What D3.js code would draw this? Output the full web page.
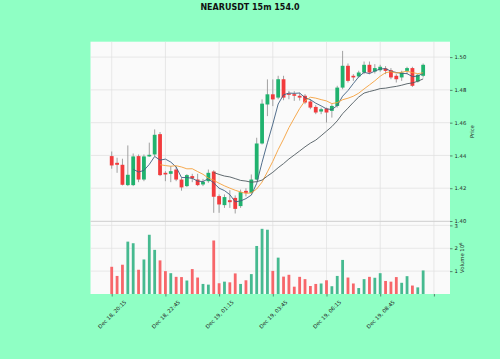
<!DOCTYPE html>
<html>
<head>
<meta charset="utf-8">
<script src="https://cdn.jsdelivr.net/npm/d3@7"></script>
<style>
body { margin: 0; background: #8fffc4; }
svg { display: block; font-family: "DejaVu Sans", sans-serif; }
</style>
</head>
<body>
<svg id="chart" width="500" height="359"></svg>
<script>
// NEARUSDT 15m candles
var opens  = [1.4396,1.4355,1.4343,1.4219,1.4219,1.4396,1.4253,1.4394,1.4406,1.4530,
              1.4294,1.4288,1.4314,1.4253,1.4213,1.4274,1.4253,1.4223,1.4243,1.4302,
              1.4152,1.4097,1.4127,1.4141,1.4091,1.4184,1.4172,1.4253,1.4473,1.4711,
              1.4773,1.4753,1.4865,1.4778,1.4774,1.4764,1.4764,1.4729,1.4696,1.4668,
              1.4686,1.4672,1.4702,1.4814,1.4947,1.4886,1.4882,1.4906,1.4953,1.4912,
              1.4920,1.4931,1.4920,1.4886,1.4876,1.4916,1.4933,1.4851,1.4886];
var highs  = [1.4424,1.4386,1.4380,1.4461,1.4412,1.4406,1.4406,1.4478,1.4559,1.4543,
              1.4304,1.4335,1.4335,1.4264,1.4286,1.4288,1.4288,1.4257,1.4314,1.4310,
              1.4162,1.4162,1.4188,1.4156,1.4192,1.4200,1.4284,1.4508,1.4742,1.4864,
              1.4864,1.4886,1.4886,1.4794,1.4792,1.4782,1.4774,1.4743,1.4707,1.4692,
              1.4692,1.4712,1.4825,1.5038,1.4961,1.4896,1.4917,1.4973,1.4973,1.4957,
              1.4953,1.4945,1.4933,1.4896,1.4917,1.4941,1.4941,1.4896,1.4961];
var lows   = [1.4319,1.4294,1.4217,1.4213,1.4213,1.4237,1.4243,1.4392,1.4396,1.4274,
              1.4243,1.4237,1.4243,1.4185,1.4207,1.4237,1.4213,1.4213,1.4233,1.4050,
              1.4050,1.4080,1.4080,1.4046,1.4080,1.4150,1.4168,1.4249,1.4467,1.4640,
              1.4701,1.4743,1.4737,1.4743,1.4733,1.4735,1.4713,1.4682,1.4652,1.4652,
              1.4601,1.4631,1.4692,1.4804,1.4845,1.4855,1.4876,1.4896,1.4896,1.4900,
              1.4911,1.4896,1.4865,1.4845,1.4855,1.4896,1.4818,1.4845,1.4876];
var closes = [1.4339,1.4343,1.4221,1.4282,1.4394,1.4253,1.4394,1.4404,1.4526,1.4280,
              1.4284,1.4304,1.4253,1.4205,1.4280,1.4260,1.4219,1.4239,1.4294,1.4148,
              1.4101,1.4146,1.4115,1.4074,1.4176,1.4172,1.4253,1.4473,1.4716,1.4773,
              1.4742,1.4865,1.4753,1.4770,1.4764,1.4753,1.4723,1.4692,1.4662,1.4682,
              1.4662,1.4702,1.4814,1.4947,1.4855,1.4876,1.4906,1.4953,1.4906,1.4933,
              1.4941,1.4916,1.4876,1.4865,1.4906,1.4933,1.4825,1.4892,1.4953];
// volume in millions
var volumes = [1.19,0.79,1.28,2.29,2.22,1.06,1.51,2.59,1.93,1.47,
               1.00,0.91,0.75,0.74,0.59,1.09,0.72,0.44,0.41,2.34,
               0.47,0.54,0.51,0.90,0.44,0.60,0.87,2.10,2.85,2.81,
               1.01,1.59,0.76,0.84,0.32,0.75,0.65,0.35,0.44,0.46,
               0.60,0.34,0.79,1.49,0.72,0.46,0.26,0.65,0.75,0.71,
               0.91,0.57,0.54,0.74,0.49,0.78,0.37,0.29,1.03];
var tickIndex  = [0, 10, 20, 30, 40, 50, 60];
var tickLabels = ["Dec 18, 20:15", "Dec 18, 22:45", "Dec 19, 01:15",
                  "Dec 19, 03:45", "Dec 19, 06:15", "Dec 19, 08:45", ""];
var priceTicks  = [1.40, 1.42, 1.44, 1.46, 1.48, 1.50];
var volumeTicks = [1, 2, 3];
var mavPeriods  = [5, 10, 20];
var mavColors   = ['#3f5f7f', '#f5a03c', '#4f5a60'];

var upColor = '#20b26e', downColor = '#f23b3d';
var volUp = '#46ba90', volDown = '#f7666a';
var gridColor = '#e0e0e0';

var svg = d3.select('#chart');
var left = 90.5, right = 450;
var priceTop = 41.7, priceBottom = 221.5, volTop = 221.5, volBottom = 294;

var x = d3.scaleLinear().domain([-3.95, 63]).range([left, right]);
var yP = d3.scaleLinear().domain([1.3997, 1.5094]).range([priceBottom, priceTop]);
var yV = d3.scaleLinear().domain([0, 3.17]).range([volBottom, volTop]);

// panels
svg.append('rect').attr('x', left).attr('y', priceTop)
    .attr('width', right - left).attr('height', volBottom - priceTop).attr('fill', '#fafafa');

// grid
var grid = svg.append('g').attr('stroke', gridColor).attr('stroke-width', 0.7);
grid.selectAll('line.hp').data(priceTicks).enter().append('line')
    .attr('x1', left).attr('x2', right)
    .attr('y1', function (d) { return yP(d); }).attr('y2', function (d) { return yP(d); });
grid.selectAll('line.hv').data(volumeTicks).enter().append('line')
    .attr('x1', left).attr('x2', right)
    .attr('y1', function (d) { return yV(d); }).attr('y2', function (d) { return yV(d); });
grid.append('g').selectAll('line').data(tickIndex).enter().append('line')
    .attr('x1', function (d) { return x(d); }).attr('x2', function (d) { return x(d); })
    .attr('y1', priceTop).attr('y2', volBottom);
svg.append('line').attr('x1', left).attr('x2', right)
    .attr('y1', priceBottom).attr('y2', priceBottom)
    .attr('stroke', '#cfcfcf').attr('stroke-width', 0.8);

// candles
var idx = d3.range(closes.length);
var candles = svg.append('g');
candles.selectAll('line').data(idx).enter().append('line')
    .attr('x1', function (i) { return x(i); }).attr('x2', function (i) { return x(i); })
    .attr('y1', function (i) { return yP(highs[i]); })
    .attr('y2', function (i) { return yP(lows[i]); })
    .attr('stroke', '#8a8a8a').attr('stroke-width', 0.8);
candles.selectAll('rect').data(idx).enter().append('rect')
    .attr('x', function (i) { return x(i) - 1.9; })
    .attr('width', 3.8)
    .attr('y', function (i) { return yP(Math.max(opens[i], closes[i])); })
    .attr('height', function (i) { return Math.max(0.8, Math.abs(yP(opens[i]) - yP(closes[i]))); })
    .attr('fill', function (i) { return closes[i] >= opens[i] ? upColor : downColor; });

// moving averages
mavPeriods.forEach(function (p, k) {
    var ma = idx.map(function (i) {
        return i < p - 1 ? null : d3.mean(closes.slice(i - p + 1, i + 1));
    });
    var line = d3.line()
        .defined(function (d) { return d !== null; })
        .x(function (d, i) { return x(i); })
        .y(function (d) { return yP(d); });
    svg.append('path').datum(ma)
        .attr('d', line)
        .attr('fill', 'none')
        .attr('stroke', mavColors[k])
        .attr('stroke-width', 0.9);
});

// volume bars
svg.append('g').selectAll('rect').data(idx).enter().append('rect')
    .attr('x', function (i) { return x(i) - 1.4; })
    .attr('width', 2.8)
    .attr('y', function (i) { return yV(volumes[i]); })
    .attr('height', function (i) { return yV(0) - yV(volumes[i]); })
    .attr('fill', function (i) { return closes[i] >= opens[i] ? volUp : volDown; });

// axes
function styleAxis(g) {
    g.select('.domain').remove();
    g.selectAll('line').attr('stroke', '#333').attr('stroke-width', 0.6);
    g.selectAll('text').attr('font-size', '5.3px').attr('fill', '#222')
        .attr('font-family', '"DejaVu Sans", sans-serif');
}
svg.append('g').attr('transform', 'translate(' + right + ',0)')
    .call(d3.axisRight(yP).tickValues(priceTicks).tickFormat(d3.format('.2f')).tickSize(2.5).tickPadding(2))
    .call(styleAxis);
svg.append('g').attr('transform', 'translate(' + right + ',0)')
    .call(d3.axisRight(yV).tickValues(volumeTicks).tickFormat(d3.format('d')).tickSize(2.5).tickPadding(2))
    .call(styleAxis);

var xAxis = svg.append('g').attr('transform', 'translate(0,' + volBottom + ')')
    .call(d3.axisBottom(x).tickValues(tickIndex).tickFormat(function (d, i) { return tickLabels[i]; })
        .tickSize(2.5).tickPadding(0))
    .call(styleAxis);
xAxis.selectAll('text')
    .attr('text-anchor', 'end')
    .attr('dy', null)
    .attr('y', 0)
    .attr('dominant-baseline', 'middle')
    .attr('transform', 'translate(13.5,7.5) rotate(-45)');

// labels
svg.append('text').attr('x', 250).attr('y', 9.5)
    .attr('text-anchor', 'middle').attr('font-size', '8px').attr('font-weight', 'bold')
    .attr('fill', '#111').text('NEARUSDT 15m 154.0');
svg.append('text')
    .attr('transform', 'translate(473,' + ((priceTop + priceBottom) / 2) + ') rotate(-90)')
    .attr('text-anchor', 'middle').attr('dominant-baseline', 'middle')
    .attr('font-size', '5.3px').attr('fill', '#222').text('Price');
var vl = svg.append('text')
    .attr('transform', 'translate(463,' + ((volTop + volBottom) / 2) + ') rotate(-90)')
    .attr('text-anchor', 'middle').attr('dominant-baseline', 'middle')
    .attr('font-size', '5.3px').attr('fill', '#222');
vl.append('tspan').text('Volume  10');
vl.append('tspan').attr('font-size', '3.8px').attr('dy', -2).text('6');
</script>
</body>
</html>
